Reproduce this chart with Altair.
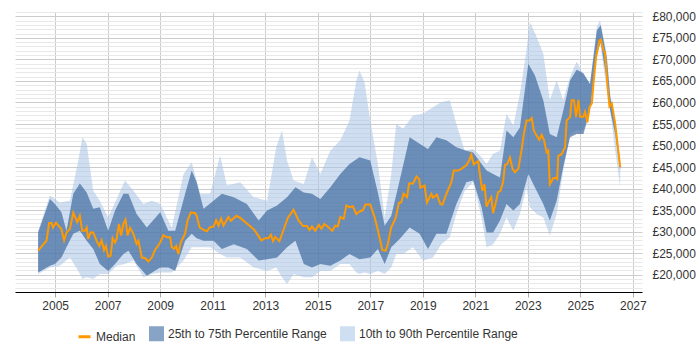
import altair as alt
import pandas as pd

# Median salary (decimal year, GBP)
med_year = [
    2004.35, 2004.67, 2004.77, 2004.86, 2004.92, 2005.03, 2005.24, 2005.34, 2005.43, 2005.56,
    2005.69, 2005.84, 2005.94, 2006.03, 2006.13, 2006.20, 2006.26, 2006.35, 2006.45, 2006.58,
    2006.68, 2006.77, 2006.86, 2006.93, 2007.02, 2007.11, 2007.19, 2007.28, 2007.34, 2007.43,
    2007.51, 2007.60, 2007.68, 2007.76, 2007.85, 2007.98, 2008.10, 2008.17, 2008.30, 2008.42,
    2008.55, 2008.68, 2008.80, 2009.00, 2009.12, 2009.25, 2009.38, 2009.44, 2009.53, 2009.61,
    2009.69, 2009.78, 2009.95, 2010.04, 2010.17, 2010.33, 2010.39, 2010.50, 2010.65, 2010.78,
    2010.88, 2011.03, 2011.13, 2011.22, 2011.32, 2011.41, 2011.51, 2011.60, 2011.69, 2011.90,
    2012.05, 2012.30, 2012.56, 2012.69, 2012.85, 2013.00, 2013.13, 2013.22, 2013.30, 2013.38,
    2013.54, 2013.68, 2013.86, 2014.08, 2014.27, 2014.44, 2014.59, 2014.69, 2014.78, 2014.91,
    2015.04, 2015.14, 2015.25, 2015.42, 2015.55, 2015.67, 2015.76, 2015.86, 2015.99, 2016.09,
    2016.21, 2016.34, 2016.47, 2016.59, 2016.72, 2016.82, 2017.00, 2017.17, 2017.29, 2017.46,
    2017.59, 2017.67, 2017.80, 2017.97, 2018.09, 2018.18, 2018.27, 2018.40, 2018.48, 2018.63,
    2018.76, 2018.86, 2018.91, 2019.07, 2019.16, 2019.33, 2019.39, 2019.54, 2019.67, 2019.75,
    2019.90, 2020.09, 2020.18, 2020.35, 2020.47, 2020.66, 2020.77, 2020.85, 2020.94, 2021.02,
    2021.11, 2021.20, 2021.27, 2021.35, 2021.43, 2021.53, 2021.61, 2021.68, 2021.78, 2021.87,
    2021.96, 2022.06, 2022.13, 2022.22, 2022.32, 2022.42, 2022.51, 2022.64, 2022.76, 2022.85,
    2022.95, 2023.06, 2023.15, 2023.23, 2023.34, 2023.44, 2023.53, 2023.62, 2023.72, 2023.78,
    2023.84, 2023.97, 2024.07, 2024.12, 2024.16, 2024.29, 2024.42, 2024.48, 2024.61, 2024.67,
    2024.76, 2024.84, 2024.93, 2024.99, 2025.12, 2025.18, 2025.27, 2025.35, 2025.44, 2025.50,
    2025.60, 2025.73, 2025.78, 2025.88, 2025.94, 2026.03, 2026.11, 2026.20, 2026.33, 2026.52,
]
med_value = [
    25600, 27900, 32000, 32000, 31000, 32100, 30600, 28000, 29800, 30600,
    34400, 32200, 33700, 30200, 30200, 31000, 28300, 29800, 29800, 27900,
    26700, 28000, 25700, 26700, 24200, 24400, 28500, 27500, 28300, 31800,
    29100, 31800, 32800, 29100, 30900, 29500, 27200, 27900, 24000, 23900,
    23100, 24000, 25700, 27500, 29200, 28700, 28700, 26400, 26000, 26700,
    24800, 27500, 29600, 32600, 34500, 34300, 33700, 31000, 30400, 30100,
    31000, 31200, 32700, 31400, 33000, 31400, 32500, 33400, 32500, 33700,
    33200, 31900, 30600, 29500, 28000, 28500, 28500, 29300, 27800, 28800,
    27800, 30100, 33200, 35100, 32600, 31300, 31300, 30400, 31200, 30200,
    31600, 30700, 31800, 31000, 30200, 31400, 31200, 33400, 33000, 36100,
    35700, 35900, 34100, 34700, 35000, 36300, 36300, 33300, 30400, 25700,
    25600, 27100, 31000, 33200, 36700, 36800, 38800, 38000, 41200, 41200,
    42800, 42200, 40200, 40700, 36800, 38800, 37900, 38600, 36400, 36300,
    38800, 41500, 44200, 44200, 44600, 45400, 46500, 47900, 45600, 46000,
    46400, 42200, 39500, 41000, 35800, 37200, 38000, 34300, 36800, 39200,
    39500, 41500, 45500, 45700, 47200, 44600, 43800, 44600, 48800, 52700,
    55800, 55800, 56400, 53500, 52300, 51300, 52500, 51200, 48400, 48800,
    41000, 42400, 42500, 42200, 47600, 48000, 49600, 55800, 56600, 60500,
    60500, 56600, 60600, 56700, 56700, 57800, 55400, 58900, 59800, 64300,
    70500, 74400, 74600, 72100, 71700, 64300, 59100, 59800, 55000, 45000,
]

# 25th / 75th percentile band
iqr_year = [
    2004.35, 2004.80, 2004.99, 2005.24, 2005.43, 2005.69, 2005.94, 2006.20, 2006.45, 2006.70,
    2007.02, 2007.28, 2007.60, 2007.79, 2008.10, 2008.49, 2009.00, 2009.31, 2009.57, 2009.95,
    2010.20, 2010.39, 2010.65, 2011.03, 2011.35, 2011.80, 2012.30, 2012.75, 2013.07, 2013.45,
    2013.83, 2014.15, 2014.47, 2014.78, 2015.10, 2015.48, 2015.86,
    2016.21, 2016.59, 2017.00, 2017.29, 2017.55, 2017.80, 2018.12, 2018.50, 2018.88, 2019.20,
    2019.52, 2019.90, 2020.28, 2020.66, 2020.92, 2021.24, 2021.43, 2021.68, 2021.94, 2022.19,
    2022.45, 2022.70, 2023.02, 2023.27, 2023.59, 2023.84, 2024.10, 2024.35, 2024.61, 2024.86,
    2025.12, 2025.37, 2025.63, 2025.78, 2026.01, 2026.14, 2026.33, 2026.52,
]
p75 = [
    29800, 37600, 36400, 34500, 30200, 38800, 41200, 39100, 35300, 35700,
    30200, 34900, 38800, 38800, 34100, 31000, 34500, 30200, 30200, 38800,
    44200, 41500, 35300, 37200, 38800, 38000, 36400, 32600, 34900, 36100,
    38000, 40300, 39100, 38800, 37600, 40300, 43400,
    45700, 47300, 46500, 39100, 31400, 33700, 41900, 51900, 50400, 49200,
    51900, 51200, 49600, 48800, 48400, 45700, 44200, 43400, 42600, 53500,
    51900, 54200, 69000, 66300, 60500, 52700, 51900, 58100, 65100, 67600,
    66800, 64300, 76700, 77900, 70200, 61200, 55000, 45700,
]
p25 = [
    20500, 22100, 22500, 24000, 26400, 29500, 30200, 27900, 26000, 22500,
    20900, 22500, 24800, 25600, 22500, 19800, 21700, 21700, 20900, 27900,
    29500, 28500, 27900, 27900, 26000, 27100, 26000, 23300, 23600, 24000,
    26400, 27900, 22500, 21700, 22500, 22100, 23300,
    24800, 23600, 24000, 26000, 22500, 26400, 28300, 31000, 29500, 26000,
    29500, 29500, 36400, 41500, 41900, 35700, 29800, 29800, 32600, 36400,
    34900, 36400, 43400, 40300, 36400, 32600, 37200, 45000, 51900, 52700,
    52700, 58100, 71300, 74000, 65100, 58100, 52700, 44200,
]

# 10th / 90th percentile band
dec_year = [
    2004.35, 2004.80, 2005.18, 2005.56, 2005.88, 2006.04, 2006.20, 2006.45, 2006.70, 2007.02,
    2007.34, 2007.66, 2007.98, 2008.36, 2008.68, 2009.00, 2009.44, 2009.89, 2010.20, 2010.52,
    2010.90, 2011.28, 2011.54, 2012.05, 2012.56, 2013.07, 2013.42, 2013.64, 2013.83, 2014.08,
    2014.47, 2014.78, 2015.10, 2015.48, 2015.86,
    2016.21, 2016.47, 2016.59, 2016.78, 2017.00, 2017.29, 2017.55, 2017.80, 2017.99, 2018.25,
    2018.63, 2019.01, 2019.39, 2019.71, 2020.03, 2020.28, 2020.60, 2020.92, 2021.24, 2021.43,
    2021.68, 2021.94, 2022.19, 2022.45, 2022.70, 2022.95, 2023.08, 2023.34, 2023.59, 2023.84,
    2024.10, 2024.35, 2024.61, 2024.86, 2025.12, 2025.37, 2025.63, 2025.75, 2026.01, 2026.14,
    2026.33, 2026.52,
]
p90 = [
    30200, 38400, 36800, 37200, 46500, 51900, 50400, 39500, 37200, 33300,
    37600, 41900, 39500, 36400, 37200, 36400, 31000, 43400, 46100, 38800,
    38800, 47700, 40700, 41500, 38000, 37200, 49600, 53500, 46500, 41900,
    41100, 47300, 43400, 48800, 51200,
    55800, 65100, 67400, 64700, 55800, 45700, 33300, 43400, 55000, 53900,
    57000, 57400, 58900, 60100, 60500, 55000, 48800, 49200, 47300, 45700,
    48100, 48800, 57400, 54600, 62000, 72100, 78700, 75200, 71300, 60500,
    65100, 60500, 65900, 69500, 66500, 64300, 77500, 79100, 71300, 62000,
    55800, 46500,
]
p10 = [
    20200, 21700, 22100, 24000, 20900, 19000, 19400, 19000, 20200, 20200,
    22100, 22500, 23300, 19400, 20200, 20500, 20500, 23300, 26400, 26400,
    26400, 24800, 24000, 24000, 21700, 20900, 21700, 19400, 17800, 20200,
    19400, 19400, 20900, 20900, 22500,
    22500, 20500, 20200, 20500, 20200, 20900, 20200, 21700, 24800, 24800,
    26400, 23300, 24000, 27100, 28700, 34100, 39500, 41500, 33300, 26400,
    27100, 29500, 33300, 30200, 34100, 40300, 35700, 34100, 33300, 29100,
    34100, 44200, 52700, 53500, 53500, 58900, 70500, 74000, 62800, 58100,
    48800, 40300,
]

# Legend entries
series_names = ["Median", "25th to 75th Percentile Range", "10th to 90th Percentile Range"]
series_colors = ["#FF9900", "#87A3C5", "#CDDFF0"]
series_shapes = ["stroke", "square", "square"]

x_ticks = list(range(2005, 2028, 2))
y_grid = list(range(16000, 81001, 1000))

median_df = pd.DataFrame({"year": med_year, "salary": med_value})
iqr_df = pd.DataFrame({"year": iqr_year, "low": p25, "high": p75})
dec_df = pd.DataFrame({"year": dec_year, "low": p10, "high": p90})
legend_df = pd.DataFrame({"series": series_names})

FONT = "Liberation Sans"

x_scale = alt.Scale(domain=[2003.47, 2027.35], nice=False, zero=False)
y_scale = alt.Scale(domain=[16000, 81000], nice=False, zero=False)

x_axis = alt.Axis(
    values=x_ticks, format="d", title=None, grid=True, gridColor="#cccccc",
    domainColor="#000000", tickColor="#aaaaaa", tickSize=5, labelPadding=3,
    labelFont=FONT, labelFontSize=12, labelColor="#333333", labelFlush=False,
)
y_axis = alt.Axis(
    orient="right", values=y_grid, title=None, domain=False, ticks=False,
    labelPadding=10, labelFont=FONT, labelFontSize=12, labelColor="#333333",
    labelOverlap=False,
    labelExpr="datum.value % 5000 === 0 && datum.value >= 20000 ? '£' + format(datum.value, ',') : ''",
    gridColor=alt.condition("datum.value % 5000 === 0", alt.value("#cccccc"), alt.value("#e8e8e8")),
)

x_enc = alt.X("year:Q", scale=x_scale, axis=x_axis, title=None)

decile_band = alt.Chart(dec_df).mark_area(color="#A7C3E3", opacity=0.55).encode(
    x=x_enc,
    y=alt.Y("low:Q", scale=y_scale, axis=y_axis, title=None),
    y2="high:Q",
)

quartile_band = alt.Chart(iqr_df).mark_area(color="#36639A", opacity=0.65).encode(
    x=x_enc,
    y=alt.Y("low:Q", scale=y_scale, axis=y_axis, title=None),
    y2="high:Q",
)

median_line = alt.Chart(median_df).mark_line(color="#FF9900", strokeWidth=2).encode(
    x=x_enc,
    y=alt.Y("salary:Q", scale=y_scale, axis=y_axis, title=None),
)

legend_def = alt.Legend(
    title=None, orient="none", legendX=62, legendY=314, direction="horizontal",
    labelFont=FONT, labelFontSize=12, labelColor="#333333", labelOffset=4,
    symbolSize=144, symbolStrokeWidth=3, symbolOpacity=1, columnPadding=8, padding=0,
)
legend_keys = alt.Chart(legend_df).mark_point(filled=True, opacity=0).encode(
    fill=alt.Fill("series:N", scale=alt.Scale(domain=series_names, range=series_colors), legend=legend_def),
    stroke=alt.Stroke("series:N", scale=alt.Scale(domain=series_names, range=series_colors), legend=legend_def),
    shape=alt.Shape("series:N", scale=alt.Scale(domain=series_names, range=series_shapes), legend=legend_def),
)

chart = alt.layer(decile_band, quartile_band, median_line, legend_keys).properties(
    width=627,
    height=280,
    autosize=alt.AutoSizeParams(type="none"),
    padding={"left": 15, "top": 12, "right": 58, "bottom": 58},
    background="#ffffff",
).configure_view(stroke=None)

chart.save("out.html", embed_options={"renderer": "svg", "actions": False})
